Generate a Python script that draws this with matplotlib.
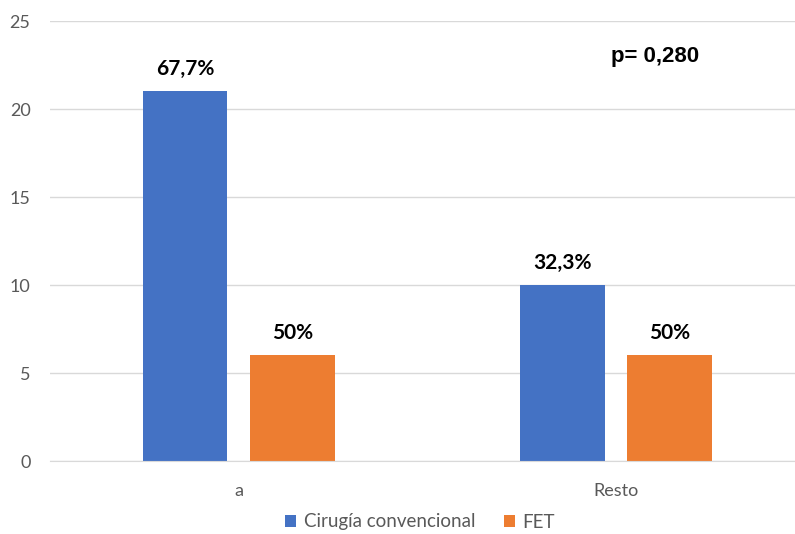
import matplotlib.pyplot as plt
import numpy as np

categories = ["a", "Resto"]
cirugia = [21, 10]
fet = [6, 6]
cirugia_labels = ["67,7%", "32,3%"]
fet_labels = ["50%", "50%"]

blue = "#4472C4"
orange = "#ED7D31"

plt.rcParams['font.family'] = ['Lato', 'DejaVu Sans']

fig = plt.figure(figsize=(7.95, 5.34), dpi=100)
ax = fig.add_axes([50 / 795, 73 / 534, 745 / 795, 440 / 534])

x = np.arange(len(categories))
w = 0.225
off = 0.142
b1 = ax.bar(x - off, cirugia, w, color=blue, label="Cirugía convencional")
b2 = ax.bar(x + off, fet, w, color=orange, label="FET")

for bars, labels in ((b1, cirugia_labels), (b2, fet_labels)):
    for bar, lab in zip(bars, labels):
        ax.text(bar.get_x() + bar.get_width() / 2, bar.get_height() + 0.7, lab,
                ha="center", va="bottom", fontsize=15, fontweight="bold", color="black")

ax.text(0.812, 0.92, "p= 0,280", transform=ax.transAxes, ha="center", va="center",
        fontsize=16, fontweight="bold", family="Liberation Sans")

ax.set_ylim(0, 25)
ax.set_xlim(-0.5, 1.475)
ax.set_yticks(range(0, 26, 5))
ax.set_xticks(x)
ax.set_xticklabels(categories)
ax.yaxis.grid(True, color="#D9D9D9", linewidth=1)
ax.set_axisbelow(True)
for s in ["top", "right", "left"]:
    ax.spines[s].set_visible(False)
ax.spines["bottom"].set_color("#D9D9D9")
ax.tick_params(axis="both", length=0, labelsize=13, labelcolor="#595959")
ax.tick_params(axis="y", pad=14)
ax.tick_params(axis="x", pad=16)

fig.legend(handles=[b1, b2], loc="center", bbox_to_anchor=(420 / 795, 12 / 534), ncol=2,
           frameon=False, fontsize=13.5, labelcolor="#595959", handlelength=0.6,
           handleheight=0.6, handletextpad=0.4, columnspacing=1.5)

fig.savefig("out.png", dpi=100)
